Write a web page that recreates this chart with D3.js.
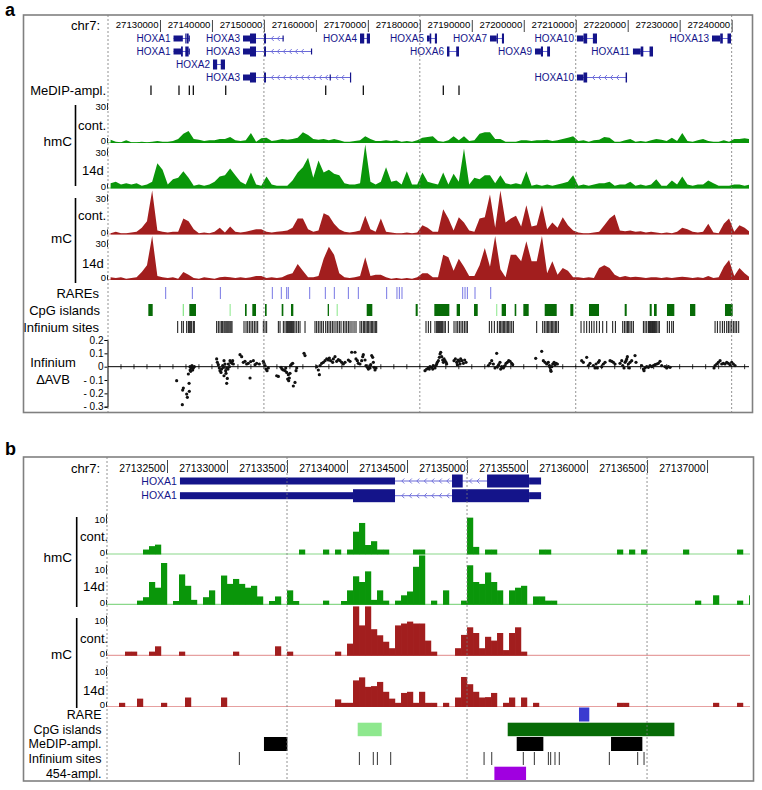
<!DOCTYPE html>
<html><head><meta charset="utf-8">
<script src="https://cdn.jsdelivr.net/npm/d3@7"></script>
<style>body{margin:0;background:#fff}svg{display:block;font-family:"Liberation Sans",Arial,Helvetica,sans-serif}</style>
</head><body><svg id="c" width="762" height="790"></svg>
<script>
// ================= DATA =================
// ---- Panel a (chr7 HOXA cluster) ----
const tickA = [27130000,27140000,27150000,27160000,27170000,27180000,27190000,27200000,27210000,27220000,27230000,27240000];
const gridA = [27120000,27150000,27180000,27210000,27240000];
const binA = 1000, startA = 27120000;   // 1 kb bins
const hmcContA = [2.5,1,0.5,2,0.5,0.5,1,0.5,1,1.5, 1,1,1.5,3,7,9,3,2.5,1.5,2, 2,3,3,4.5,2,1.5,2,7.5,1,3.5, 4,1.5,2,3,2.5,3,4,8,6,3, 2.5,3,2,3,2,1,1,1.5,2,5, 3,1.5,1.5,2,1.5,2,
 1,1.5,1,2,4,4.5,5,1.5,1,2, 5,2,5,1.5,2,7,8,8,3,3, 1,1,1,2,2,1.5,2,2,2.5,1.5, 2,3,4,5,1.5,2,1,2,2.5,4.5, 4,1,1,2,3,1,1.5,1,2,3, 2.5,1.5,4,1.5,7.5,1.5,1,2,3,1.5, 1,1,2,1,3,3,3.5,3];
const hmc14dA = [4,5,3,4,3,4,2,3,5,19, 14,3,7,8,13,8,2,3,2,3, 5,9,10,15,10,5,3,12,3,2, 9,3,2,2,2,6,12,16,23,8, 21,12,14,11,10,4,3,3,4,33,
 5,3,5,16,5,6,3,13,3,3, 12,5,4,3,12,3,11,5,30,3, 8,7,10,10,4,10,4,3,4,3, 13,2,3,2,3,2,3,4,5,10, 2,3,2,3,4,4,5,2,3,3, 5,2,3,2,3,7,2,2,6,3, 9,3,2,3,3,6,4,2,2,2, 3,3,2,3];
const mcContA = [1,2,1,1,1.5,2,5,10,33,3, 2,1.5,2,2,12,10,4,1,1.5,1, 2,5,1.5,6,2,1.5,2,3,4,4, 2,1.5,2,2.5,3,5,12,12,4,2, 3,16,14,8,4,2,1.5,2,3,14,
 4,2,12,2,1.5,1,1,1.5,1,1.5, 7,5,2,2,19,12,3,13,9,3, 2,12,13,30,5,33,9,12,14,6, 22,6,7,22,4,9,5,13,7,3, 1.5,1,1,1.5,2,7,12,15,3,2.5, 3,2,2.5,1.5,2,1.5,1,1.5,1,2, 5,4,2,1.5,2,8,1.5,1,8,12, 2,7,5,2];
const mc14dA = [2,1.5,2,1,1.5,2,6,11,33,3, 2,1.5,2,1,6,4,1.5,1,2,1.5, 1,2,2.5,2,1.5,2,1.5,2,3,3, 1.5,2,1.5,2,4,5,12,7,2,2, 3,16,25,19,5,2,1.5,2,3,17,
 3,4,4,2,1,1.5,1,1.5,1,2, 5,5,2,2,19,17,7,16,10,3, 3,11,24,10,33,8,2,19,19,14, 29,14,14,33,5,14,4,9,7,2, 2,1.5,2,1.5,9,11,9,4,2,3, 2,2.5,2,1.5,2,2,1.5,2,1.5,2, 2.5,2,1.5,2,1.5,3,1.5,2,10,15, 3,9,5,2];

// gene models (bp); exon type 'f' = coding (tall), 'h' = UTR (short)
const hoxa1TxA = [[27132608,27134400,'h'],[27134875,27134964,'f'],[27135167,27135517,'f'],[27135517,27135617,'h']];
const hoxa1TxB = [[27132608,27134050,'h'],[27134050,27134400,'f'],[27134875,27135517,'f'],[27135517,27135617,'h']];
const genesA = [
 {name:'HOXA1', row:0, exons:hoxa1TxA},
 {name:'HOXA1', row:1, exons:hoxa1TxB},
 {name:'HOXA2', row:2, exons:[[27140200,27141000,'f'],[27141700,27142510,'f']]},
 {name:'HOXA3', row:0, exons:[[27145980,27147320,'h'],[27147320,27148480,'f'],[27150020,27150400,'f'],[27153580,27153770,'h']]},
 {name:'HOXA3', row:1, exons:[[27145980,27147320,'h'],[27147320,27148480,'f'],[27150020,27150400,'f'],[27159050,27159250,'h']]},
 {name:'HOXA3', row:3, exons:[[27145980,27147320,'h'],[27147320,27148480,'f'],[27150020,27150400,'f'],[27162650,27162800,'h'],[27166560,27166760,'f']]},
 {name:'HOXA4', row:0, exons:[[27168490,27169300,'f'],[27169800,27170410,'f']]},
 {name:'HOXA5', row:0, exons:[[27181380,27181900,'h'],[27181900,27182200,'f'],[27182900,27183300,'f']]},
 {name:'HOXA6', row:1, exons:[[27185230,27185700,'f'],[27187000,27187540,'f']]},
 {name:'HOXA7', row:0, exons:[[27193500,27194800,'h'],[27194800,27195000,'f'],[27195800,27196200,'f']]},
 {name:'HOXA9', row:1, exons:[[27202160,27203300,'h'],[27203300,27203700,'f'],[27204500,27205050,'f']]},
 {name:'HOXA10', row:0, exons:[[27210240,27211500,'h'],[27211500,27212200,'f'],[27213300,27214090,'f']]},
 {name:'HOXA10', row:3, exons:[[27210240,27211500,'h'],[27211500,27212200,'f'],[27219600,27219870,'f']]},
 {name:'HOXA11', row:1, exons:[[27221010,27222500,'h'],[27222500,27223000,'f'],[27224200,27224870,'f']]},
 {name:'HOXA13', row:0, exons:[[27236220,27237800,'h'],[27237800,27238300,'f'],[27239200,27239880,'f']]}
];
// feature positions (kb)
const medipKbA = [27128.27,27133.66,27135.65,27136.42,27142.65,27161.89,27169.13,27184.52,27187.54];
const rareKbA = [27131.10,27136.23,27141.62,27151.62,27153.35,27154.38,27154.70,27158.81,27161.82,27163.55,27166.25,27168.17,27173.62,27175.60,27176.06,27176.57,27188.25,27188.70,27189.15,27190.62,27193.64];
// [start kb, end kb, dense(1)/light(0)]
const cpgKbA = [[27127.76,27128.60,1],[27134.37,27134.62,0],[27135.65,27136.93,1],[27143.40,27143.60,0],[27146.36,27146.68,1],[27147.77,27148.48,1],[27150.21,27150.53,1],[27153.42,27153.74,1],[27155.21,27155.66,1],[27162.27,27162.52,1],[27164.00,27164.20,0],[27169.78,27170.86,1],[27179.20,27179.59,1],[27182.79,27185.68,1],[27187.09,27187.73,1],[27190.43,27191.14,1],[27194.70,27194.90,0],[27195.75,27196.58,1],[27198.25,27198.56,1],[27199.92,27200.95,1],[27204.03,27206.34,1],[27208.96,27209.54,1],[27212.55,27214.48,1],[27219.42,27219.81,1],[27224.23,27224.62,1],[27225.06,27225.58,1],[27227.56,27228.97,1],[27231.99,27233.01,1],[27238.72,27240.20,1]];
const infSitesKbA = [27133.41,27134.18,27134.50,27135.14,27135.46,27135.65,27135.91,27136.10,27136.42,27136.61,
 27140.91,27141.23,27141.55,27141.87,27142.07,27142.32,27142.51,27142.71,27142.90,27143.09,27143.28,27143.48,27143.67,27143.86,
 27146.17,27146.56,27146.88,27147.20,27147.52,27147.84,27148.16,27148.48,27148.80,27149.89,27150.21,27150.53,
 27152.78,27153.10,27153.74,27154.06,27154.38,27154.57,27154.77,27154.96,27155.15,27155.34,27155.54,27155.73,27155.98,27156.31,27156.63,27156.95,27157.91,
 27159.83,27160.15,27160.47,27160.80,27161.12,27161.44,27161.89,27162.21,27162.53,27162.85,27163.17,27163.49,27163.87,27164.20,27164.52,27164.84,27165.29,27165.61,27165.93,27166.25,27166.57,27166.95,27167.34,27167.72,
 27168.49,27168.81,27169.13,27169.39,27169.65,27169.90,27170.16,27170.42,27170.67,27170.93,27171.19,27171.44,27171.70,
 27181.19,27181.64,27182.09,27182.92,27183.24,27183.44,27183.63,27183.82,27184.02,27184.21,27184.40,27184.66,27184.91,27185.49,
 27186.58,27186.97,27187.29,27187.61,27187.93,27188.25,27188.57,27188.89,27189.15,
 27193.38,27193.83,27194.34,27194.92,27195.30,27195.56,27195.82,27196.07,27196.33,27196.59,27196.84,27197.10,27197.36,27197.68,27198.00,
 27202.49,27203.64,27203.96,27204.28,27204.54,27204.80,27205.05,27205.31,27205.57,27205.82,27206.08,27206.34,27206.66,
 27211.02,27211.60,27212.11,27212.62,27213.07,27213.52,27214.03,27214.55,27215.19,27215.96,
 27217.11,27217.63,27219.04,27219.36,27219.68,27219.94,27220.19,27220.45,27220.77,27221.09,
 27223.02,27223.34,27223.66,27223.98,27224.17,27224.36,27224.55,27224.75,27224.94,27225.13,27225.32,27225.58,27225.84,27226.09,
 27227.63,27228.02,27228.47,27228.79,
 27236.81,27237.26,27237.77,27238.22,27238.60,27239.05,27239.37,27239.69,27240.01,27240.33,27240.65,27240.97,27241.36];
// Infinium delta AVB: [position kb, delta]
const infDeltaA = [[27133.21,-0.105],[27134.37,-0.175],[27134.50,-0.16],[27135.27,-0.23],[27135.14,-0.205],[27135.65,-0.185],[27135.60,-0.125],[27134.30,-0.285],[27135.46,-0.055],
 [27135.78,0],[27135.97,-0.01],[27136.16,0.008],[27136.42,-0.01],[27136.61,0],[27136.29,-0.025],[27135.80,-0.025],[27135.91,-0.035],
 [27140.91,0.058],[27141.04,0.033],[27141.23,0.015],[27141.42,-0.01],[27141.55,-0.03],[27141.74,-0.043],[27141.87,-0.018],[27142.07,0.008],[27142.19,-0.005],[27142.32,-0.068],[27142.64,-0.03],[27142.84,-0.01],[27142.96,-0.088],[27142.84,-0.125],[27143.16,0.02],[27143.35,0],[27143.48,0.045],[27143.67,0.033],[27143.86,0.025],[27143.99,0.045],[27144.12,0.02],[27142.51,0.02],[27142.32,0.045],[27142.71,-0.05],[27143.09,-0.018],
 [27145.40,0.09],[27145.72,0.075],[27146.04,0.033],[27146.36,0.04],[27146.68,0.02],[27147.00,0.025],[27147.33,-0.085],[27147.45,0.038],[27147.97,0.045],[27148.29,0.015],[27148.61,0.025],[27149.12,0.02],
 [27149.89,0.04],[27150.02,0.025],[27150.21,0.008],[27150.40,-0.018],[27150.60,-0.03],[27150.85,-0.01],
 [27152.46,-0.068],[27152.78,-0.073],[27153.29,-0.005],[27153.48,-0.018],[27153.74,-0.025],[27154.06,-0.03],[27154.38,-0.043],[27154.57,-0.093],[27154.77,-0.105],[27154.89,-0.085],[27155.02,-0.05],[27155.15,0.008],[27155.34,0.02],[27155.54,0.025],[27155.66,-0.145],[27155.98,-0.118],[27156.18,-0.03],[27156.31,-0.01],[27154.20,-0.01],[27154.70,-0.06],
 [27157.72,0.1],[27157.91,0.083],
 [27160.15,0],[27160.47,-0.025],[27160.67,-0.06],[27160.80,0.008],[27161.12,0.025],[27161.44,0.033],[27161.76,0.045],[27162.08,0.058],[27162.40,0.05],[27162.59,0.065],[27162.85,0.045],[27163.23,0.033],[27163.36,0.058],[27163.68,0.075],[27164.00,0.04],[27164.32,0.053],[27164.64,0.045],[27164.96,0.033],[27165.29,0.02],[27165.61,0.033],[27166.25,0.05],[27166.57,0.04],[27166.89,0.108],
 [27167.53,0.108],[27167.72,0.058],[27167.98,0.045],[27168.17,0.025],[27168.49,0.02],[27168.81,0.045],[27169.01,0.075],[27169.13,0.09],[27169.46,0.05],[27169.65,0.008],[27169.90,-0.005],[27170.10,-0.018],[27170.29,0],[27170.42,-0.01],[27170.55,0.015],[27170.74,0.083],[27170.93,0.07],[27171.06,0.033],[27171.19,-0.005],[27171.38,-0.025],[27171.57,-0.01],
 [27181.00,-0.03],[27181.32,-0.018],[27181.64,-0.01],[27181.83,-0.018],[27181.96,0],[27182.28,-0.005],[27182.48,-0.018],[27182.60,0.008],[27182.92,-0.01],[27183.11,0.008],[27183.24,0.02],[27183.37,0.033],[27183.57,0.045],[27183.76,0.07],[27183.89,0.095],[27184.02,0.108],[27184.21,0.075],[27184.40,0.05],[27184.53,0.033],[27184.66,0.058],[27184.85,0.045],[27185.04,0.033],[27185.17,0.02],
 [27186.58,0.045],[27186.84,0.058],[27187.09,0.033],[27187.22,0.015],[27187.35,0.05],[27187.61,0.04],[27187.74,0.02],[27187.86,0.058],[27188.12,0.045],[27188.38,0.025],[27188.63,0.05],[27188.89,0.033],
 [27193.19,0.008],[27193.51,0.025],[27193.83,0.045],[27194.15,0.02],[27194.47,-0.01],[27194.79,0.1],[27194.92,0],[27195.18,0.015],[27195.43,0.033],[27195.56,-0.018],[27195.75,0],[27196.07,-0.01],[27196.20,0],[27196.39,0.008],[27196.59,0.025],[27196.84,0.033],[27197.10,0.045],[27197.36,0.04],[27197.68,0.025],[27197.87,0.015],
 [27202.30,0.063],[27203.45,0.115],[27203.77,0.045],[27204.09,0.033],[27204.41,0.02],[27204.73,0.033],[27204.93,0.008],[27205.06,-0.005],[27205.18,-0.025],[27205.25,-0.035],[27205.38,0],[27205.57,0.02],[27205.83,0.033],[27206.02,0.015],[27206.21,0.025],[27206.47,0.02],
 [27211.15,0.045],[27211.47,0.033],[27212.11,0.07],[27212.43,0.008],[27212.75,0.025],[27213.39,0.008],[27213.71,-0.01],[27213.91,0.02],[27214.16,-0.01],[27214.35,0.033],[27214.55,0.045],[27215.00,0],[27215.32,0.02],[27215.64,0.033],[27216.60,0.045],[27216.92,0.04],[27217.24,0.033],[27217.56,0.02],
 [27218.52,0.025],[27218.85,0.045],[27219.04,0.008],[27219.29,-0.01],[27219.49,0.033],[27219.68,0.045],[27219.81,0.058],[27219.94,0.075],[27220.13,0.02],[27220.32,-0.01],[27220.45,0.033],[27220.77,0.045],[27221.41,0.083],[27221.60,0.033],
 [27222.69,0.008],[27223.02,-0.018],[27223.14,-0.03],[27223.34,-0.01],[27223.66,0],[27223.98,-0.005],[27224.30,0.008],[27224.62,0],[27224.94,0.008],[27225.26,0.015],[27225.58,0.02],[27225.90,0.025],[27226.22,0.04],[27226.54,0.008],[27227.18,0],[27227.50,-0.01],[27227.83,0],[27228.15,-0.005],
 [27236.61,-0.01],[27236.81,0.008],[27237.13,0.02],[27237.45,0.033],[27237.77,0.045],[27238.09,0.02],[27238.41,0.025],[27238.73,0.02],[27239.05,0.033],[27239.37,0.025],[27239.69,0.015],[27240.01,0.033],[27240.33,0.02],[27240.65,0.008]];
const deltaTicks = [0.2,0.1,0,-0.1,-0.2,-0.3];

// ---- Panel b (HOXA1 zoom) ----
const tickB = [27132500,27133000,27133500,27134000,27134500,27135000,27135500,27136000,27136500,27137000];
const gridB = [27132000,27133500,27135000,27136500];
const binB = 50; // bp
const hmcContB = [[27132300,1.3],[27132350,2.2],[27132400,2.6],[27133600,1.3],[27133800,1.3],[27133900,1.3],[27134000,1.3],[27134050,6],[27134100,8.3],[27134150,2.5],[27134200,3.5],[27134250,1.3],[27134300,1.3],[27134550,1.3],[27134600,1.3],[27135000,9.7],[27135050,2],[27135150,1.3],[27135200,1.3],[27135600,1.3],[27135650,1.3],[27136250,1.3],[27136350,1.3],[27136450,1.3],[27136800,1.3],[27137250,1.3]];
const hmc14dB = [[27132250,1.1],[27132300,2],[27132350,6],[27132400,4.5],[27132450,11],[27132550,1],[27132600,8],[27132650,5],[27132700,1.3],[27132800,2],[27132850,3.8],[27132950,7.7],[27133000,5.5],[27133050,6.8],[27133100,5.5],[27133150,4.5],[27133200,5],[27133250,2.2],[27133350,1],[27133400,2.2],[27133500,3.8],[27133550,1],[27133800,1.1],[27133950,1],[27134000,3.8],[27134050,7.5],[27134100,6],[27134150,8.8],[27134200,1.3],[27134250,3.8],[27134300,1.1],[27134400,1.1],[27134450,2.5],[27134500,3.5],[27134550,10],[27134600,13],[27134700,1.1],[27134800,3.8],[27134950,1.1],[27135000,10.4],[27135050,6],[27135100,5.5],[27135150,8.5],[27135200,6],[27135250,3.8],[27135350,3.8],[27135400,4.5],[27135450,5],[27135550,2.2],[27135600,2.2],[27135650,1.1],[27135700,1.1],[27136900,1.1],[27137050,2.5],[27137250,1.1],[27137350,2.5]];
const mcContB = [[27132150,1.1],[27132200,1.1],[27132350,1.1],[27132400,2.5],[27132600,1.1],[27133050,1.1],[27133400,2.5],[27133500,1.1],[27133900,1.1],[27134000,3.2],[27134050,13],[27134100,8],[27134150,13],[27134200,7],[27134250,5.4],[27134300,3.7],[27134350,2],[27134400,8],[27134450,8.5],[27134500,9],[27134550,8.5],[27134600,8.5],[27134650,4],[27134700,1.1],[27134900,2],[27134950,5.5],[27135000,7.5],[27135050,6],[27135100,2],[27135150,5],[27135200,4],[27135250,6],[27135300,1.5],[27135350,6],[27135400,7.5],[27135450,1.1]];
const mc14dB = [[27132100,1.1],[27132250,2.2],[27132450,1.1],[27132650,2.5],[27132950,2.5],[27133900,2],[27133950,1.1],[27134000,1.1],[27134050,7],[27134100,7.8],[27134150,5.3],[27134200,5.5],[27134250,6.6],[27134300,4],[27134350,2.2],[27134400,1.1],[27134450,3.7],[27134500,4],[27134550,1.1],[27134600,4],[27134650,1.1],[27134700,1.1],[27134800,1.1],[27134900,2.5],[27134950,7.9],[27135000,6],[27135050,4],[27135100,2.5],[27135150,2.6],[27135200,3.7],[27135300,1.1],[27135350,2.5],[27135450,2.5],[27135550,1.1],[27136250,1.1],[27136300,1.1],[27137050,1.1],[27137250,1.1]];
const genesB = [{name:'HOXA1', row:0, exons:hoxa1TxA},{name:'HOXA1', row:1, exons:hoxa1TxB}];
const rareB = [[27135933,27136019]];
const cpgB = [[27134089,27134289,0],[27135339,27136728,1]];
const medipB = [[27133308,27133503],[27135414,27135636],[27136200,27136461]];
const infSitesB = [27133103,27134103,27134219,27134253,27134364,27135142,27135206,27135469,27135561,27135678,27135697,27135733,27135769,27136186,27136422,27136475];
const amp454B = [[27135228,27135492]];

// ================= DRAWING =================
const svg = d3.select('#c');
const NAVY = '#14148a', CHEV = '#6a6ad8';
const GREEN = '#0a960a', GREEN_L = '#8ad88a', RED = '#a21e1e', RED_L = '#e6a0a0';
const CPG = ['#8ee88e', '#076b07'];

function txt(g, x, y, s, size, anchor, opts = {}) {
  return g.append('text').attr('x', x).attr('y', y).attr('dy', '0.35em')
    .attr('text-anchor', anchor || 'start').style('font-size', size + 'px')
    .attr('fill', opts.fill || '#000').style('font-weight', opts.bold ? 'bold' : 'normal').text(s);
}

function drawGenes(g, x, genes, rowY, full, half, fs, step) {
  genes.forEach(t => {
    const y = rowY(t.row);
    const s = t.exons[0][0], e = t.exons[t.exons.length - 1][1];
    g.append('line').attr('x1', x(s)).attr('x2', x(e)).attr('y1', y).attr('y2', y)
      .attr('stroke', CHEV).attr('stroke-width', 1);
    for (let k = 0; k < t.exons.length - 1; k++) {
      const a = x(t.exons[k][1]), b = x(t.exons[k + 1][0]);
      for (let cx = a + step; cx < b - step * 0.5; cx += step) {
        g.append('path').attr('d', `M${cx + 1.8},${y - 2.5}L${cx - 0.7},${y}L${cx + 1.8},${y + 2.5}`)
          .attr('fill', 'none').attr('stroke', CHEV).attr('stroke-width', 0.9);
      }
    }
    t.exons.forEach(ex => {
      const h = ex[2] === 'f' ? full : half;
      g.append('rect').attr('x', x(ex[0])).attr('y', y - h / 2)
        .attr('width', Math.max(1.2, x(ex[1]) - x(ex[0]))).attr('height', h).attr('fill', NAVY);
    });
    txt(g, x(s) - 3, y, t.name, fs, 'end', {fill: NAVY});
  });
}

// ---------- PANEL A ----------
const xa = d3.scaleLinear().domain([27120000, 27243340]).range([108, 749]);
const kA = v => xa(v * 1000);
const A = svg.append('g');
txt(A, 5, 10, 'a', 18, 'start', {bold: true});
svg.append('defs').append('clipPath').attr('id', 'clipA').append('rect').attr('x', 108).attr('y', 0).attr('width', 641).attr('height', 420);
svg.select('defs').append('clipPath').attr('id', 'clipB').append('rect').attr('x', 107).attr('y', 440).attr('width', 643).attr('height', 350);

// axis
const axA = A.append('g').attr('transform', 'translate(0,32)')
  .call(d3.axisTop(xa).tickValues(tickA).tickSize(12).tickFormat(d3.format('d')));
axA.select('.domain').remove();
axA.selectAll('.tick line').attr('stroke', '#444');
axA.selectAll('.tick text').attr('text-anchor', 'end').attr('x', -2).attr('y', -7).attr('dy', '0.35em')
  .style('font-size', '9.6px').attr('fill', '#000');
txt(A, 100, 25, 'chr7:', 13, 'end');

// genes
drawGenes(A, xa, genesA, r => 38.5 + 13 * r, 10, 6, 10, 6);

// MeDIP
txt(A, 106, 90, 'MeDIP-ampl.', 13, 'end');
A.selectAll('.medip').data(medipKbA).join('line')
  .attr('x1', d => kA(d)).attr('x2', d => kA(d)).attr('y1', 85.5).attr('y2', 95)
  .attr('stroke', '#111').attr('stroke-width', 1.3);

// signal tracks (1 kb bins)
const yA = v => Math.min(v * 1.333, 44);
const tracksA = [
  {d: hmcContA, b: 143, c: GREEN, l: GREEN_L},
  {d: hmc14dA, b: 188.5, c: GREEN, l: GREEN_L},
  {d: mcContA, b: 234.5, c: RED, l: RED_L},
  {d: mc14dA, b: 280, c: RED, l: RED_L}
];
tracksA.forEach(t => {
  const tg = A.append('g').attr('clip-path', 'url(#clipA)');
  tg.append('line').attr('x1', 108).attr('x2', 749).attr('y1', t.b - 0.5).attr('y2', t.b - 0.5).attr('stroke', t.l).attr('stroke-width', 1);
  const area = d3.area().x((v, i) => xa(startA + (i + 0.5) * binA)).y0(t.b).y1(v => t.b - yA(v));
  tg.append('path').attr('d', area(t.d)).attr('fill', t.c);
  txt(A, 106, t.b - 36, '30', 9.5, 'end');
  txt(A, 106, t.b - 2, '0', 9.5, 'end');
  A.append('line').attr('x1', 107.5).attr('x2', 107.5).attr('y1', t.b - 40).attr('y2', t.b - 33).attr('stroke', '#222');
  A.append('line').attr('x1', 107.5).attr('x2', 107.5).attr('y1', t.b - 5).attr('y2', t.b).attr('stroke', '#222');
});
// track labels
A.append('line').attr('x1', 75.5).attr('x2', 75.5).attr('y1', 105).attr('y2', 186).attr('stroke', '#000').attr('stroke-width', 1.6);
A.append('line').attr('x1', 75.5).attr('x2', 75.5).attr('y1', 198).attr('y2', 283).attr('stroke', '#000').attr('stroke-width', 1.6);
txt(A, 72, 141, 'hmC', 13.5, 'end');
txt(A, 72, 238, 'mC', 13.5, 'end');
txt(A, 78, 125.5, 'cont.', 13, 'start');
txt(A, 82, 170, '14d', 13, 'start');
txt(A, 78, 215, 'cont.', 13, 'start');
txt(A, 82, 263, '14d', 13, 'start');

// RAREs
txt(A, 99, 293, 'RAREs', 13, 'end');
A.selectAll('.rare').data(rareKbA).join('line')
  .attr('x1', d => kA(d)).attr('x2', d => kA(d)).attr('y1', 287).attr('y2', 299)
  .attr('stroke', '#7777e4').attr('stroke-width', 1);
// CpG
txt(A, 100, 310, 'CpG islands', 13, 'end');
A.selectAll('.cpg').data(cpgKbA).join('rect')
  .attr('x', d => kA(d[0])).attr('width', d => Math.max(1, kA(d[1]) - kA(d[0])))
  .attr('y', 304).attr('height', 12).attr('fill', d => CPG[d[2]]);
// Infinium sites
txt(A, 99, 327, 'Infinium sites', 13, 'end');
A.selectAll('.inf').data(infSitesKbA).join('line')
  .attr('x1', d => kA(d)).attr('x2', d => kA(d)).attr('y1', 321).attr('y2', 333)
  .attr('stroke', '#111').attr('stroke-width', 1);

// Infinium delta AVB scatter
const ys = d3.scaleLinear().domain([-0.3, 0.2]).range([406.7, 340]);
const yAx = A.append('g').attr('transform', 'translate(107.5,0)')
  .call(d3.axisLeft(ys).tickValues(deltaTicks).tickSize(3)
    .tickFormat(d => d < 0 ? '- ' + Math.abs(d) : (d === 0 ? '0' : String(d))));
yAx.select('.domain').attr('stroke', '#000');
yAx.selectAll('.tick text').style('font-size', '10px').attr('fill', '#000').attr('x', -4);
A.append('line').attr('x1', 108).attr('x2', 749).attr('y1', ys(0)).attr('y2', ys(0)).attr('stroke', '#000').attr('stroke-width', 1);
A.selectAll('.zt').data(d3.range(27122500, 27243340, 2500)).join('line')
  .attr('x1', d => xa(d)).attr('x2', d => xa(d)).attr('y1', ys(0) - 2.5).attr('y2', ys(0) + 2.5)
  .attr('stroke', '#000').attr('stroke-width', 0.8);
A.selectAll('.pt').data(infDeltaA).join('circle')
  .attr('cx', d => kA(d[0])).attr('cy', d => ys(d[1])).attr('r', 1.6).attr('fill', '#111');
txt(A, 53, 362, 'Infinium', 13, 'middle');
txt(A, 53, 379.5, 'ΔAVB', 13, 'middle');

// grid + frame
A.selectAll('.grid').data(gridA).join('line')
  .attr('x1', d => xa(d)).attr('x2', d => xa(d)).attr('y1', 15).attr('y2', 412)
  .attr('stroke', '#777').attr('stroke-width', 0.8).attr('stroke-dasharray', '2,2');
A.append('rect').attr('x', 23.5).attr('y', 15).attr('width', 729).attr('height', 397.5)
  .attr('fill', 'none').attr('stroke', '#808080').attr('stroke-width', 1.6);

// ---------- PANEL B ----------
const xb = d3.scaleLinear().domain([27132000, 27137358]).range([107, 750]);
const B = svg.append('g');
txt(B, 5, 449, 'b', 18, 'start', {bold: true});
const axB = B.append('g').attr('transform', 'translate(0,473)')
  .call(d3.axisTop(xb).tickValues(tickB).tickSize(13).tickFormat(d3.format('d')));
axB.select('.domain').remove();
axB.selectAll('.tick line').attr('stroke', '#444');
axB.selectAll('.tick text').attr('text-anchor', 'end').attr('x', -2).attr('y', -5).attr('dy', '0.35em')
  .style('font-size', '10.4px').attr('fill', '#000');
txt(B, 100, 468, 'chr7:', 13, 'end');

drawGenes(B, xb, genesB, r => 481 + 14.7 * r, 13, 7, 10.5, 7.5);

const yB = v => Math.min(v * 3.8, 50);
const tracksB = [
  {d: hmcContB, b: 554.5, c: GREEN, l: GREEN_L},
  {d: hmc14dB, b: 604.8, c: GREEN, l: GREEN_L},
  {d: mcContB, b: 655.8, c: RED, l: RED_L},
  {d: mc14dB, b: 707, c: RED, l: RED_L}
];
tracksB.forEach(t => {
  const tg = B.append('g').attr('clip-path', 'url(#clipB)');
  tg.append('line').attr('x1', 107).attr('x2', 750).attr('y1', t.b - 0.5).attr('y2', t.b - 0.5).attr('stroke', t.l).attr('stroke-width', 1.2);
  tg.selectAll('rect').data(t.d).join('rect')
    .attr('x', d => xb(d[0])).attr('width', d => xb(d[0] + binB) - xb(d[0]) + 0.2)
    .attr('y', d => t.b - yB(d[1])).attr('height', d => yB(d[1])).attr('fill', t.c);
  txt(B, 105, t.b - 35, '10', 9.5, 'end');
  txt(B, 105, t.b - 2, '0', 9.5, 'end');
  B.append('line').attr('x1', 106.5).attr('x2', 106.5).attr('y1', t.b - 40).attr('y2', t.b - 31).attr('stroke', '#222');
  B.append('line').attr('x1', 106.5).attr('x2', 106.5).attr('y1', t.b - 5).attr('y2', t.b).attr('stroke', '#222');
});
B.append('line').attr('x1', 76.7).attr('x2', 76.7).attr('y1', 517).attr('y2', 607).attr('stroke', '#000').attr('stroke-width', 1.6);
B.append('line').attr('x1', 76.7).attr('x2', 76.7).attr('y1', 618).attr('y2', 708).attr('stroke', '#000').attr('stroke-width', 1.6);
txt(B, 72, 557, 'hmC', 13.5, 'end');
txt(B, 72, 654, 'mC', 13.5, 'end');
txt(B, 80, 536, 'cont.', 13, 'start');
txt(B, 83, 586, '14d', 13, 'start');
txt(B, 80, 638.5, 'cont.', 13, 'start');
txt(B, 83, 690, '14d', 13, 'start');

// annotation rows
txt(B, 101.5, 715, 'RARE', 12.5, 'end');
txt(B, 101.5, 729.5, 'CpG islands', 12.5, 'end');
txt(B, 101.5, 744, 'MeDIP-ampl.', 12.5, 'end');
txt(B, 101.5, 759, 'Infinium sites', 12.5, 'end');
txt(B, 101.5, 773.5, '454-ampl.', 12.5, 'end');
B.selectAll('.rareb').data(rareB).join('rect')
  .attr('x', d => xb(d[0])).attr('width', d => xb(d[1]) - xb(d[0])).attr('y', 707.5).attr('height', 14).attr('fill', '#3a3ad0');
B.selectAll('.cpgb').data(cpgB).join('rect')
  .attr('x', d => xb(d[0])).attr('width', d => xb(d[1]) - xb(d[0])).attr('y', 722.7).attr('height', 13.5).attr('fill', d => CPG[d[2]]);
B.selectAll('.medb').data(medipB).join('rect')
  .attr('x', d => xb(d[0])).attr('width', d => xb(d[1]) - xb(d[0])).attr('y', 737).attr('height', 14).attr('fill', '#000');
B.selectAll('.infb').data(infSitesB).join('line')
  .attr('x1', d => xb(d)).attr('x2', d => xb(d)).attr('y1', 752).attr('y2', 765)
  .attr('stroke', '#333').attr('stroke-width', 1);
B.selectAll('.ampb').data(amp454B).join('rect')
  .attr('x', d => xb(d[0])).attr('width', d => xb(d[1]) - xb(d[0])).attr('y', 766.7).attr('height', 13.3).attr('fill', '#a000e0');

B.selectAll('.gridb').data(gridB).join('line')
  .attr('x1', d => xb(d)).attr('x2', d => xb(d)).attr('y1', 457).attr('y2', 781)
  .attr('stroke', '#777').attr('stroke-width', 0.8).attr('stroke-dasharray', '2,2');
B.append('rect').attr('x', 23.5).attr('y', 457).attr('width', 730).attr('height', 324)
  .attr('fill', 'none').attr('stroke', '#808080').attr('stroke-width', 1.6);
</script></body></html>
